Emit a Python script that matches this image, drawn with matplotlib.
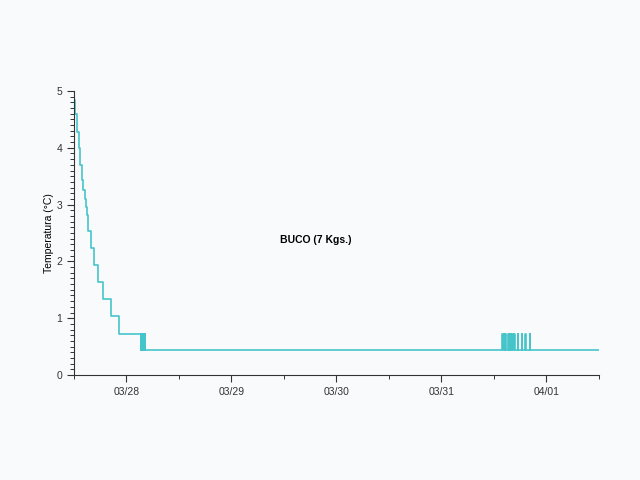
import matplotlib
matplotlib.use('Agg')
import matplotlib.pyplot as plt
import matplotlib.dates as mdates
from matplotlib.ticker import MultipleLocator
import pandas as pd

plt.rcParams['font.family'] = ['Liberation Sans', 'DejaVu Sans']

start = pd.Timestamp('2020-03-27 12:00')
end = pd.Timestamp('2020-04-01 12:00')

# hours after start at which the reading changes, and the new reading
cool_hours = [0.0, 0.23, 0.68, 1.06, 1.44, 1.75, 2.13, 2.43, 2.73, 2.96, 3.19,
              3.95, 4.56, 5.47, 6.69, 8.36, 10.4]
cool_temps = [4.84, 4.6, 4.27, 4.0, 3.7, 3.43, 3.26, 3.1, 2.96, 2.81, 2.53,
              2.23, 1.93, 1.64, 1.34, 1.03, 0.73]

flicker1_hours = [15.27, 15.32, 15.37, 15.42, 15.47, 15.52, 15.57, 15.62, 15.67,
                  15.72, 15.77, 15.82, 15.87, 15.92, 15.97, 16.02, 16.07, 16.12, 16.2]
flicker2_hours = [97.8, 97.85, 97.9, 97.95, 98.0, 98.05, 98.1, 98.15, 98.2, 98.25,
                  98.3, 98.35, 98.4, 98.45, 98.5, 98.55, 98.6, 98.65, 98.7, 98.75,
                  99.2, 99.25, 99.3, 99.35, 99.4, 99.45, 99.5, 99.55, 99.6, 99.65,
                  99.7, 99.75, 99.8, 99.85, 99.9, 99.95, 100.0, 100.05, 100.1, 100.15,
                  100.2, 100.25, 100.3, 100.35, 100.4, 100.45, 100.5, 100.55, 100.6, 100.7,
                  101.4, 101.5, 102.3, 102.4, 103.2, 103.3, 104.2, 104.3]
low, high = 0.44, 0.73

hours = list(cool_hours)
temps = list(cool_temps)
for i, h in enumerate(flicker1_hours):
    hours.append(h)
    temps.append(low if i % 2 == 0 else high)
temps[-1] = low
for i, h in enumerate(flicker2_hours):
    hours.append(h)
    temps.append(high if i % 2 == 0 else low)
hours.append((end - start).total_seconds() / 3600)
temps.append(low)

times = [start + pd.Timedelta(hours=h) for h in hours]

fig = plt.figure(figsize=(6.4, 4.8), dpi=100, facecolor='#f9fafb')
ax = fig.add_axes([74 / 640, 105 / 480, 525 / 640, 284 / 480])
ax.set_facecolor('#f9fafb')
ax.plot(times, temps, drawstyle='steps-post', color='#45c4ca', linewidth=1.2)

ax.set_xlim(start, end)
ax.set_ylim(0, 5)
ax.xaxis.set_major_locator(mdates.DayLocator())
ax.xaxis.set_minor_locator(mdates.HourLocator(byhour=[12]))
ax.xaxis.set_major_formatter(mdates.DateFormatter('%m/%d'))
ax.yaxis.set_major_locator(MultipleLocator(1))
ax.yaxis.set_minor_locator(MultipleLocator(0.1))
ax.tick_params(which='major', length=5, width=0.8, labelsize=7.5, colors='#333333')
ax.tick_params(which='minor', length=3, width=0.7, colors='#333333')
for s in ['top', 'right']:
    ax.spines[s].set_visible(False)
for s in ['left', 'bottom']:
    ax.spines[s].set_color('#333333')

ax.set_ylabel('Temperatura (°C)', fontsize=7.5, labelpad=2)
ax.text(0.461, 0.475, 'BUCO (7 Kgs.)', transform=ax.transAxes, ha='center',
        va='center', fontsize=7.5, fontweight='bold')

fig.savefig('out.png', dpi=100, facecolor=fig.get_facecolor())
